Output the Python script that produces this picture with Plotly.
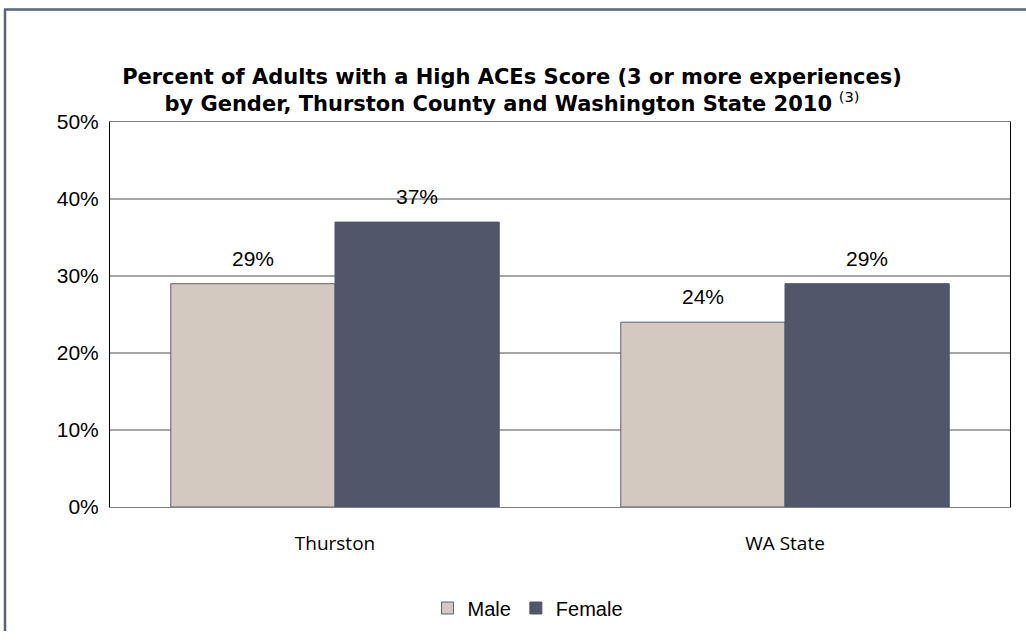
import plotly.graph_objects as go

categories = ["Thurston", "WA State"]
male = [29, 24]
female = [37, 29]
tick_vals = [0, 10, 20, 30, 40, 50]
tick_text = ["0%", "10%", "20%", "30%", "40%", "50%"]

W, H = 1026, 641
L, R, T, B = 110, 16, 122, 134
pw, ph = W - L - R, H - T - B

fig = go.Figure()
fig.add_bar(name="Male", x=categories, y=male,
            marker=dict(color="#D3C9C0", line=dict(color="#5B6178", width=1)))
fig.add_bar(name="Female", x=categories, y=female,
            marker=dict(color="#51566B", line=dict(color="#51566B", width=1)))

annotations = []
for trace_vals, xoff in [(male, -0.182), (female, 0.182)]:
    for i, v in enumerate(trace_vals):
        annotations.append(dict(x=i + xoff, y=v, xref="x", yref="y",
                                text=f"{v}%", showarrow=False, yanchor="bottom",
                                yshift=12, font=dict(family="Liberation Sans, Arial", size=21, color="#000")))

title_text = ("<b>Percent of Adults with a High ACEs Score (3 or more experiences)</b><br>"
              "<b>by Gender, Thurston County and Washington State 2010</b> <sup>(3)</sup>")

fig.update_layout(
    width=W, height=H,
    margin=dict(l=L, r=R, t=T, b=B),
    paper_bgcolor="white", plot_bgcolor="white",
    barmode="group", bargap=0.27, bargroupgap=0,
    title=dict(text=title_text, x=(512 - L) / pw, xref="paper", xanchor="center",
               y=(H - 84) / H, yanchor="middle",
               font=dict(family="DejaVu Sans", size=21, color="#000")),
    xaxis=dict(type="category", showline=True, linecolor="#808080", linewidth=1, mirror=True,
               ticks="", tickfont=dict(family="Open Sans, Calibri", size=19, color="#000"),
               ticklabelstandoff=19),
    yaxis=dict(range=[0, 50], tickvals=tick_vals, ticktext=tick_text,
               showgrid=True, gridcolor="#A6A6A6", gridwidth=1.5,
               showline=True, linecolor="#000", linewidth=1, mirror=True,
               zeroline=False, ticks="", ticklabelstandoff=6,
               tickfont=dict(family="Liberation Sans, Arial", size=21, color="#000")),
    legend=dict(orientation="h", x=(528 - L) / pw, xanchor="center", y=-(608 - (H - B)) / ph,
                yanchor="middle",
                font=dict(family="Liberation Sans, Arial", size=20, color="#000"),
                itemwidth=30, traceorder="normal"),
    annotations=annotations,
    shapes=[
        dict(type="line", xref="paper", yref="paper",
             x0=(4 - L) / pw, x1=(W + 10 - L) / pw, y0=(H - B - 9.5) / ph, y1=(H - B - 9.5) / ph,
             line=dict(color="#5B6178", width=2.5)),
        dict(type="line", xref="paper", yref="paper",
             x0=(5 - L) / pw, x1=(5 - L) / pw, y0=(H - B - 9.5) / ph, y1=(H - B + 10 - H) / ph,
             line=dict(color="#5B6178", width=2.5)),
    ],
)
fig.write_html("out.html", config={"displayModeBar": False},
               post_script="document.body.style.margin='0';")
